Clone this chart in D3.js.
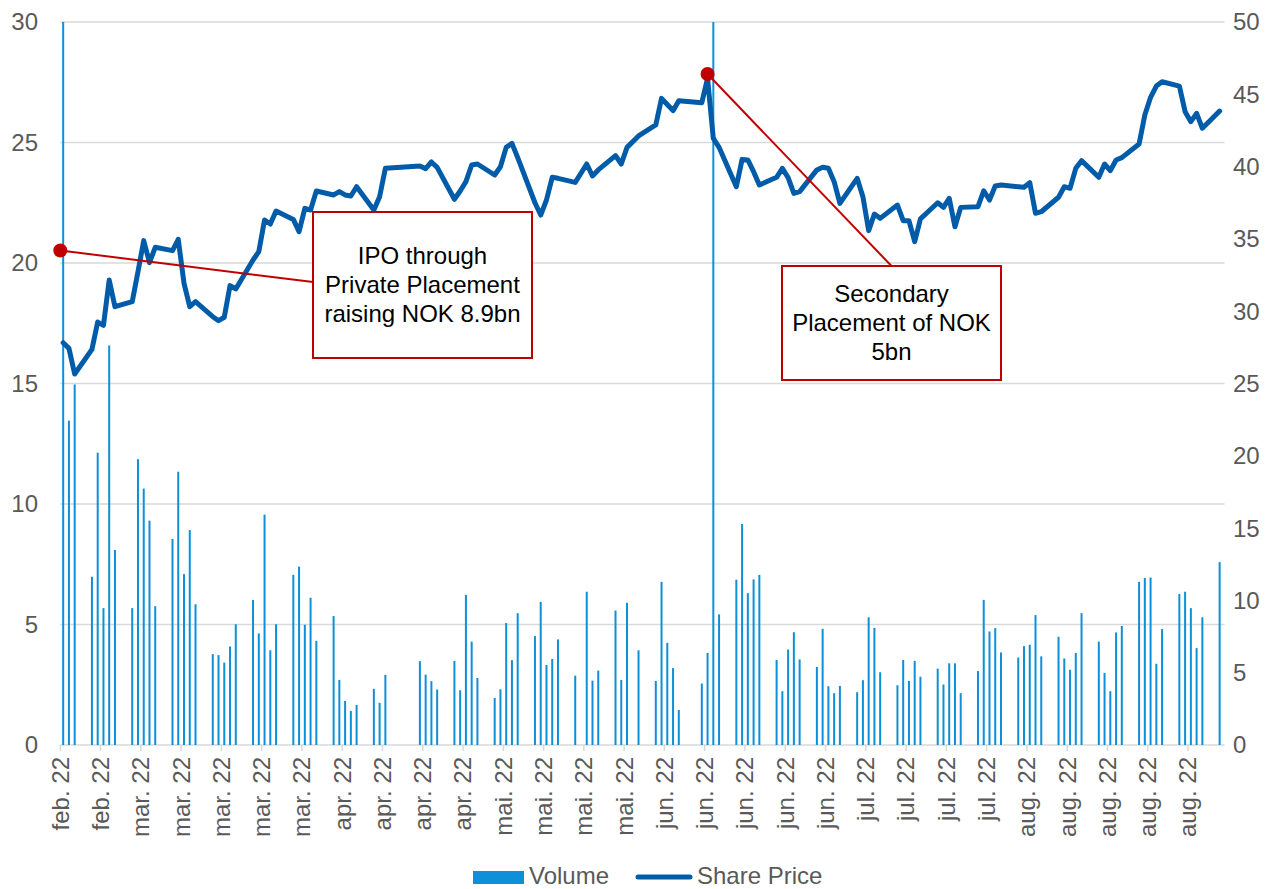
<!DOCTYPE html>
<html>
<head>
<meta charset="utf-8">
<script src="https://cdn.jsdelivr.net/npm/d3@7"></script>
<style>
  body { margin: 0; background: #fff; }
  svg { font-family: "Liberation Sans", Arial, sans-serif; }
</style>
</head>
<body>
<div id="chart"></div>
<script>
// trading days (Oslo Børs), Feb 16 - Sep 5 2022
const tradeDates = [
  "2022-02-16","2022-02-17","2022-02-18","2022-02-21","2022-02-22","2022-02-23","2022-02-24","2022-02-25","2022-02-28",
  "2022-03-01","2022-03-02","2022-03-03","2022-03-04","2022-03-07","2022-03-08","2022-03-09","2022-03-10","2022-03-11",
  "2022-03-14","2022-03-15","2022-03-16","2022-03-17","2022-03-18","2022-03-21","2022-03-22","2022-03-23","2022-03-24","2022-03-25",
  "2022-03-28","2022-03-29","2022-03-30","2022-03-31","2022-04-01","2022-04-04","2022-04-05","2022-04-06","2022-04-07","2022-04-08",
  "2022-04-11","2022-04-12","2022-04-13","2022-04-19","2022-04-20","2022-04-21","2022-04-22","2022-04-25","2022-04-26","2022-04-27","2022-04-28","2022-04-29",
  "2022-05-02","2022-05-03","2022-05-04","2022-05-05","2022-05-06","2022-05-09","2022-05-10","2022-05-11","2022-05-12","2022-05-13",
  "2022-05-16","2022-05-18","2022-05-19","2022-05-20","2022-05-23","2022-05-24","2022-05-25","2022-05-27","2022-05-30","2022-05-31",
  "2022-06-01","2022-06-02","2022-06-03","2022-06-07","2022-06-08","2022-06-09","2022-06-10","2022-06-13","2022-06-14","2022-06-15","2022-06-16","2022-06-17",
  "2022-06-20","2022-06-21","2022-06-22","2022-06-23","2022-06-24","2022-06-27","2022-06-28","2022-06-29","2022-06-30","2022-07-01",
  "2022-07-04","2022-07-05","2022-07-06","2022-07-07","2022-07-08","2022-07-11","2022-07-12","2022-07-13","2022-07-14","2022-07-15",
  "2022-07-18","2022-07-19","2022-07-20","2022-07-21","2022-07-22","2022-07-25","2022-07-26","2022-07-27","2022-07-28","2022-07-29",
  "2022-08-01","2022-08-02","2022-08-03","2022-08-04","2022-08-05","2022-08-08","2022-08-09","2022-08-10","2022-08-11","2022-08-12",
  "2022-08-15","2022-08-16","2022-08-17","2022-08-18","2022-08-19","2022-08-22","2022-08-23","2022-08-24","2022-08-25","2022-08-26",
  "2022-08-29","2022-08-30","2022-08-31","2022-09-01","2022-09-02","2022-09-05"
];

// volume (left axis), first day and placement day run off the top
const volume = [
  45, 13.46, 14.96, 6.98, 12.13, 5.68, 16.58, 8.09, 5.68,
  11.86, 10.64, 9.31, 5.76, 8.55, 11.34, 7.09, 8.92, 5.84,
  3.77, 3.73, 3.42, 4.09, 5.01, 6.02, 4.63, 9.56, 3.93, 5.01,
  7.06, 7.40, 4.99, 6.11, 4.32, 5.35, 2.70, 1.83, 1.41, 1.66,
  2.33, 1.75, 2.91, 3.48, 2.92, 2.65, 2.30, 3.49, 2.27, 6.23, 4.29, 2.78,
  1.95, 2.31, 5.06, 3.52, 5.47, 4.52, 5.94, 3.32, 3.57, 4.38,
  2.88, 6.36, 2.67, 3.09, 5.58, 2.70, 5.90, 3.93, 2.66, 6.77,
  4.24, 3.19, 1.45, 2.55, 3.82, 38, 5.42, 6.86, 9.17, 6.30, 6.87, 7.06,
  3.53, 2.23, 3.96, 4.68, 3.55, 3.24, 4.82, 2.44, 2.15, 2.45,
  2.19, 2.69, 5.30, 4.86, 3.02, 2.48, 3.53, 2.66, 3.49, 2.83,
  3.17, 2.51, 3.39, 3.39, 2.15, 3.07, 6.02, 4.71, 4.85, 3.84,
  3.63, 4.10, 4.16, 5.39, 3.68, 4.49, 3.59, 3.12, 3.82, 5.47,
  4.29, 2.99, 2.23, 4.67, 4.94, 6.77, 6.93, 6.95, 3.37, 4.81,
  6.27, 6.36, 5.68, 4.02, 5.30, 7.59
];

// share price NOK (right axis)
const sharePrice = [
  27.82, 27.43, 25.66, 27.36, 29.25, 29.02, 32.16, 30.31, 30.66,
  32.73, 34.88, 33.36, 34.42, 34.19, 34.97, 31.93, 30.31, 30.66,
  29.62, 29.35, 29.58, 31.77, 31.54, 33.54, 34.12, 36.31, 36.03, 36.93,
  36.35, 35.50, 37.11, 37.00, 38.31, 38.04, 38.27, 38.04, 37.97, 38.61,
  37.00, 37.92, 39.88, 40.04, 39.86, 40.32, 39.95, 37.74, 38.31, 38.96, 40.11, 40.18,
  39.42, 39.99, 41.33, 41.61, 40.62, 37.50, 36.65, 37.69, 39.26, 39.19,
  38.91, 40.18, 39.35, 39.77, 40.76, 40.18, 41.33, 42.12, 42.88, 44.72,
  44.30, 43.87, 44.56, 44.42, 46.10, 41.95, 41.33, 38.61, 40.50, 40.46, 39.65, 38.73,
  39.26, 39.88, 39.24, 38.15, 38.27, 39.77, 39.95, 39.88, 38.96, 37.46,
  39.19, 37.92, 35.57, 36.72, 36.42, 37.34, 36.26, 36.26, 34.81, 36.38,
  37.50, 37.18, 37.81, 35.84, 37.18, 37.23, 38.33, 37.69, 38.66, 38.73,
  38.61, 38.57, 38.89, 36.77, 36.88, 37.88, 38.61, 38.50, 39.88, 40.41,
  39.26, 40.18, 39.72, 40.46, 40.62, 41.56, 43.57, 44.79, 45.57, 45.87,
  45.57, 43.80, 43.11, 43.68, 42.65, 43.84
];

// weekly category labels
const tickDates = [
  "2022-02-16","2022-02-23","2022-03-02","2022-03-09","2022-03-16","2022-03-23","2022-03-30",
  "2022-04-06","2022-04-13","2022-04-20","2022-04-27","2022-05-04","2022-05-11","2022-05-18","2022-05-25",
  "2022-06-01","2022-06-08","2022-06-15","2022-06-22","2022-06-29","2022-07-06","2022-07-13","2022-07-20","2022-07-27",
  "2022-08-03","2022-08-10","2022-08-17","2022-08-24","2022-08-31"
];
const tickLabels = [
  "feb. 22","feb. 22","mar. 22","mar. 22","mar. 22","mar. 22","mar. 22",
  "apr. 22","apr. 22","apr. 22","apr. 22","mai. 22","mai. 22","mai. 22","mai. 22",
  "jun. 22","jun. 22","jun. 22","jun. 22","jun. 22","jul. 22","jul. 22","jul. 22","jul. 22",
  "aug. 22","aug. 22","aug. 22","aug. 22","aug. 22"
];

const volumeTicks = [0, 5, 10, 15, 20, 25, 30];
const priceTicks = [0, 5, 10, 15, 20, 25, 30, 35, 40, 45, 50];

const annotations = [
  { date: "2022-02-16", price: 34.2, lines: ["IPO through", "Private Placement", "raising NOK 8.9bn"],
    box: { x: 313, y: 212, w: 219, h: 146 }, end: "left" },
  { date: "2022-06-08", price: 46.4, lines: ["Secondary", "Placement of NOK", "5bn"],
    box: { x: 782, y: 266, w: 219, h: 114 }, end: "top" }
];

const width = 1276, height = 889;
const margin = { left: 60.3, right: 1222.5, top: 22, bottom: 745 };
const fontSize = 24;
const parse = d3.timeParse("%Y-%m-%d");
const blueBar = "#0e90d8", blueLine = "#005ca9", red = "#c00000", grey = "#595959", gridCol = "#d9d9d9";

const x = d3.scaleTime()
  .domain([parse("2022-02-16"), parse("2022-09-06")])
  .range([margin.left, margin.right]);
const yVol = d3.scaleLinear().domain([0, 30]).range([margin.bottom, margin.top]);
const yPrice = d3.scaleLinear().domain([0, 50]).range([margin.bottom, margin.top]);

// mid-day position of a trading date
const xMid = s => x(d3.timeHour.offset(parse(s), 12));

const svg = d3.select("#chart").append("svg")
  .attr("width", width)
  .attr("height", height);

svg.append("defs").append("clipPath").attr("id", "plotClip")
  .append("rect")
  .attr("x", margin.left - 10).attr("y", margin.top)
  .attr("width", margin.right - margin.left + 20).attr("height", margin.bottom - margin.top);

// gridlines
svg.append("g").selectAll("line")
  .data(volumeTicks.slice(1))
  .join("line")
  .attr("x1", margin.left).attr("x2", margin.right + 2)
  .attr("y1", d => yVol(d)).attr("y2", d => yVol(d))
  .attr("stroke", gridCol).attr("stroke-width", 1.3);

// left axis labels
svg.append("g").selectAll("text")
  .data(volumeTicks)
  .join("text")
  .attr("x", 38).attr("y", d => yVol(d))
  .attr("dy", "0.35em")
  .attr("text-anchor", "end")
  .attr("font-size", fontSize).attr("fill", grey)
  .text(d => d);

// right axis labels
svg.append("g").selectAll("text")
  .data(priceTicks)
  .join("text")
  .attr("x", 1233).attr("y", d => yPrice(d))
  .attr("dy", "0.35em")
  .attr("font-size", fontSize).attr("fill", grey)
  .text(d => d);

// x axis line + ticks
svg.append("line")
  .attr("x1", margin.left).attr("x2", margin.right + 2)
  .attr("y1", margin.bottom).attr("y2", margin.bottom)
  .attr("stroke", gridCol).attr("stroke-width", 1.5);

const xTicks = svg.append("g");
xTicks.selectAll("line")
  .data(tickDates)
  .join("line")
  .attr("x1", d => x(parse(d))).attr("x2", d => x(parse(d)))
  .attr("y1", margin.bottom).attr("y2", margin.bottom + 6)
  .attr("stroke", gridCol).attr("stroke-width", 1.5);

xTicks.selectAll("text")
  .data(tickDates)
  .join("text")
  .attr("transform", d => `translate(${x(parse(d))},757) rotate(-90)`)
  .attr("dy", "0.35em")
  .attr("text-anchor", "end")
  .attr("font-size", fontSize).attr("fill", grey)
  .text((d, i) => tickLabels[i]);

// volume bars
svg.append("g").attr("clip-path", "url(#plotClip)")
  .selectAll("rect")
  .data(tradeDates)
  .join("rect")
  .attr("x", d => xMid(d) - 1)
  .attr("width", 2)
  .attr("y", (d, i) => yVol(volume[i]))
  .attr("height", (d, i) => yVol(0) - yVol(volume[i]))
  .attr("fill", blueBar);

// share price line
const line = d3.line()
  .x(d => xMid(d))
  .y((d, i) => yPrice(sharePrice[i]));

svg.append("path")
  .datum(tradeDates)
  .attr("d", line)
  .attr("fill", "none")
  .attr("stroke", blueLine)
  .attr("stroke-width", 5)
  .attr("stroke-linejoin", "round")
  .attr("stroke-linecap", "round");

// annotations
annotations.forEach(a => {
  const px = a.end === "left" ? x(parse(a.date)) : xMid(a.date);
  const py = yPrice(a.price);
  const b = a.box;
  const ex = a.end === "left" ? b.x : b.x + b.w / 2;
  const ey = a.end === "left" ? b.y + 70 : b.y;

  svg.append("line")
    .attr("x1", px).attr("y1", py).attr("x2", ex).attr("y2", ey)
    .attr("stroke", red).attr("stroke-width", 2);

  svg.append("rect")
    .attr("x", b.x).attr("y", b.y).attr("width", b.w).attr("height", b.h)
    .attr("fill", "#fff").attr("stroke", red).attr("stroke-width", 2);

  const lineH = 29;
  const startY = b.y + b.h / 2 - lineH * (a.lines.length - 1) / 2;
  svg.append("g").selectAll("text")
    .data(a.lines)
    .join("text")
    .attr("x", b.x + b.w / 2)
    .attr("y", (d, i) => startY + i * lineH)
    .attr("dy", "0.35em")
    .attr("text-anchor", "middle")
    .attr("font-size", fontSize).attr("fill", "#000")
    .text(d => d);

  svg.append("circle")
    .attr("cx", px).attr("cy", py).attr("r", 7)
    .attr("fill", red);
});

// legend
const legend = svg.append("g");
legend.append("rect")
  .attr("x", 473).attr("y", 871).attr("width", 51).attr("height", 13)
  .attr("fill", blueBar);
legend.append("text")
  .attr("x", 529).attr("y", 876).attr("dy", "0.35em")
  .attr("font-size", fontSize).attr("fill", grey)
  .text("Volume");
legend.append("line")
  .attr("x1", 638).attr("x2", 690).attr("y1", 877).attr("y2", 877)
  .attr("stroke", blueLine).attr("stroke-width", 5).attr("stroke-linecap", "round");
legend.append("text")
  .attr("x", 697).attr("y", 876).attr("dy", "0.35em")
  .attr("font-size", fontSize).attr("fill", grey)
  .text("Share Price");
</script>
</body>
</html>
